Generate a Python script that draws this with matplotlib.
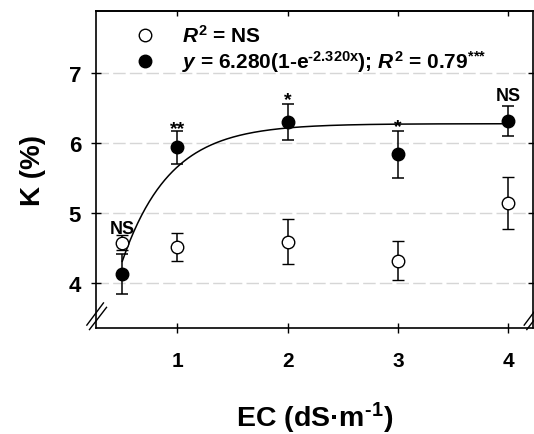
import matplotlib
matplotlib.use("Agg")
import matplotlib.pyplot as plt
import numpy as np

plt.rcParams['font.family'] = ['Liberation Sans', 'DejaVu Sans']
plt.rcParams['font.weight'] = 'bold'
plt.rcParams['mathtext.fontset'] = 'custom'
plt.rcParams['mathtext.rm'] = 'Liberation Sans:bold'
plt.rcParams['mathtext.it'] = 'Liberation Sans:italic:bold'
plt.rcParams['mathtext.bf'] = 'Liberation Sans:bold'

# Data
ec = [0.5, 1, 2, 3, 4]
open_k = [4.58, 4.51, 4.59, 4.32, 5.15]
open_err = [0.11, 0.20, 0.32, 0.28, 0.37]
filled_k = [4.13, 5.94, 6.30, 5.84, 6.32]
filled_err = [0.28, 0.24, 0.26, 0.33, 0.21]
fit_a = 6.280
fit_b = 2.320
sig_labels = ['NS', '**', '*', '*', 'NS']
sig_y = [4.71, 6.14, 6.56, 6.17, 6.62]
xtick_vals = [1, 2, 3, 4]
ytick_vals = [4, 5, 6, 7]

fig = plt.figure(figsize=(5.34, 4.35), dpi=100)
ax = fig.add_axes([0.179, 0.243, 0.819, 0.729])

for yv in ytick_vals:
    ax.axhline(yv, color='#d6d6d6', lw=1.0, ls=(0, (9, 3)), zorder=0)

xc = np.linspace(ec[0], ec[-1], 300)
ax.plot(xc, fit_a * (1 - np.exp(-fit_b * xc)), color='black', lw=1.1, zorder=2)

ax.errorbar(ec, filled_k, yerr=filled_err, fmt='o', color='black', mfc='black',
            mec='black', ms=9, capsize=4, elinewidth=1.1, capthick=1.1, zorder=3)
ax.errorbar(ec, open_k, yerr=open_err, fmt='o', color='black', mfc='white',
            mec='black', ms=9, mew=1.0, capsize=4, elinewidth=1.1, capthick=1.1, zorder=3)

for x, y, s in zip(ec, sig_y, sig_labels):
    ax.text(x, y, s, ha='center', va='baseline', fontsize=13 if s == 'NS' else 14,
            fontweight='bold', zorder=4)

ax.set_xlim(0.258, 4.225)
ax.set_ylim(3.353, 7.89)
ax.set_xticks(xtick_vals)
ax.set_yticks(ytick_vals)
ax.set_xticklabels([str(v) for v in xtick_vals], fontsize=15, fontweight='bold')
ax.set_yticklabels([str(v) for v in ytick_vals], fontsize=16, fontweight='bold')
ax.tick_params(direction='inout', length=7, width=1.0, top=False, right=True, pad=7)
ax.tick_params(axis='x', pad=13)
for sp in ax.spines.values():
    sp.set_linewidth(1.2)

sec = ax.secondary_xaxis('top')
sec.set_xticks(xtick_vals)
sec.tick_params(direction='in', length=3.5, width=1.0, labeltop=False)
sec.spines['top'].set_linewidth(1.2)

ax.set_xlabel('EC (dS\u00b7m$^{\\text{-1}}$)', fontsize=20.5, fontweight='bold', labelpad=21)
ax.set_ylabel('K (%)', fontsize=20, fontweight='bold', labelpad=16)

# legend drawn manually
ax.plot([0.113], [0.924], 'o', transform=ax.transAxes, ms=9, mfc='white', mec='black', mew=1.0, clip_on=False)
ax.plot([0.113], [0.842], 'o', transform=ax.transAxes, ms=9, mfc='black', mec='black', clip_on=False)
ax.text(0.197, 0.924, r'$R^{2}$ = NS', transform=ax.transAxes, fontsize=15,
        fontweight='bold', va='center', ha='left')
ax.text(0.197, 0.842, r'$y$ = 6.280(1-e$^{\text{-2.320x}}$); $R^{2}$ = 0.79$^{\text{***}}$',
        transform=ax.transAxes, fontsize=15, fontweight='bold', va='center', ha='left')

# axis break marks
for x0 in (0.0, 1.0):
    ax.plot([x0 - 0.020, x0 + 0.018], [0.010, 0.080], color='black', lw=1.0,
            transform=ax.transAxes, clip_on=False)
    ax.plot([x0 - 0.014, x0 + 0.025], [-0.004, 0.066], color='black', lw=1.0,
            transform=ax.transAxes, clip_on=False)

fig.savefig('out.png', dpi=100)
